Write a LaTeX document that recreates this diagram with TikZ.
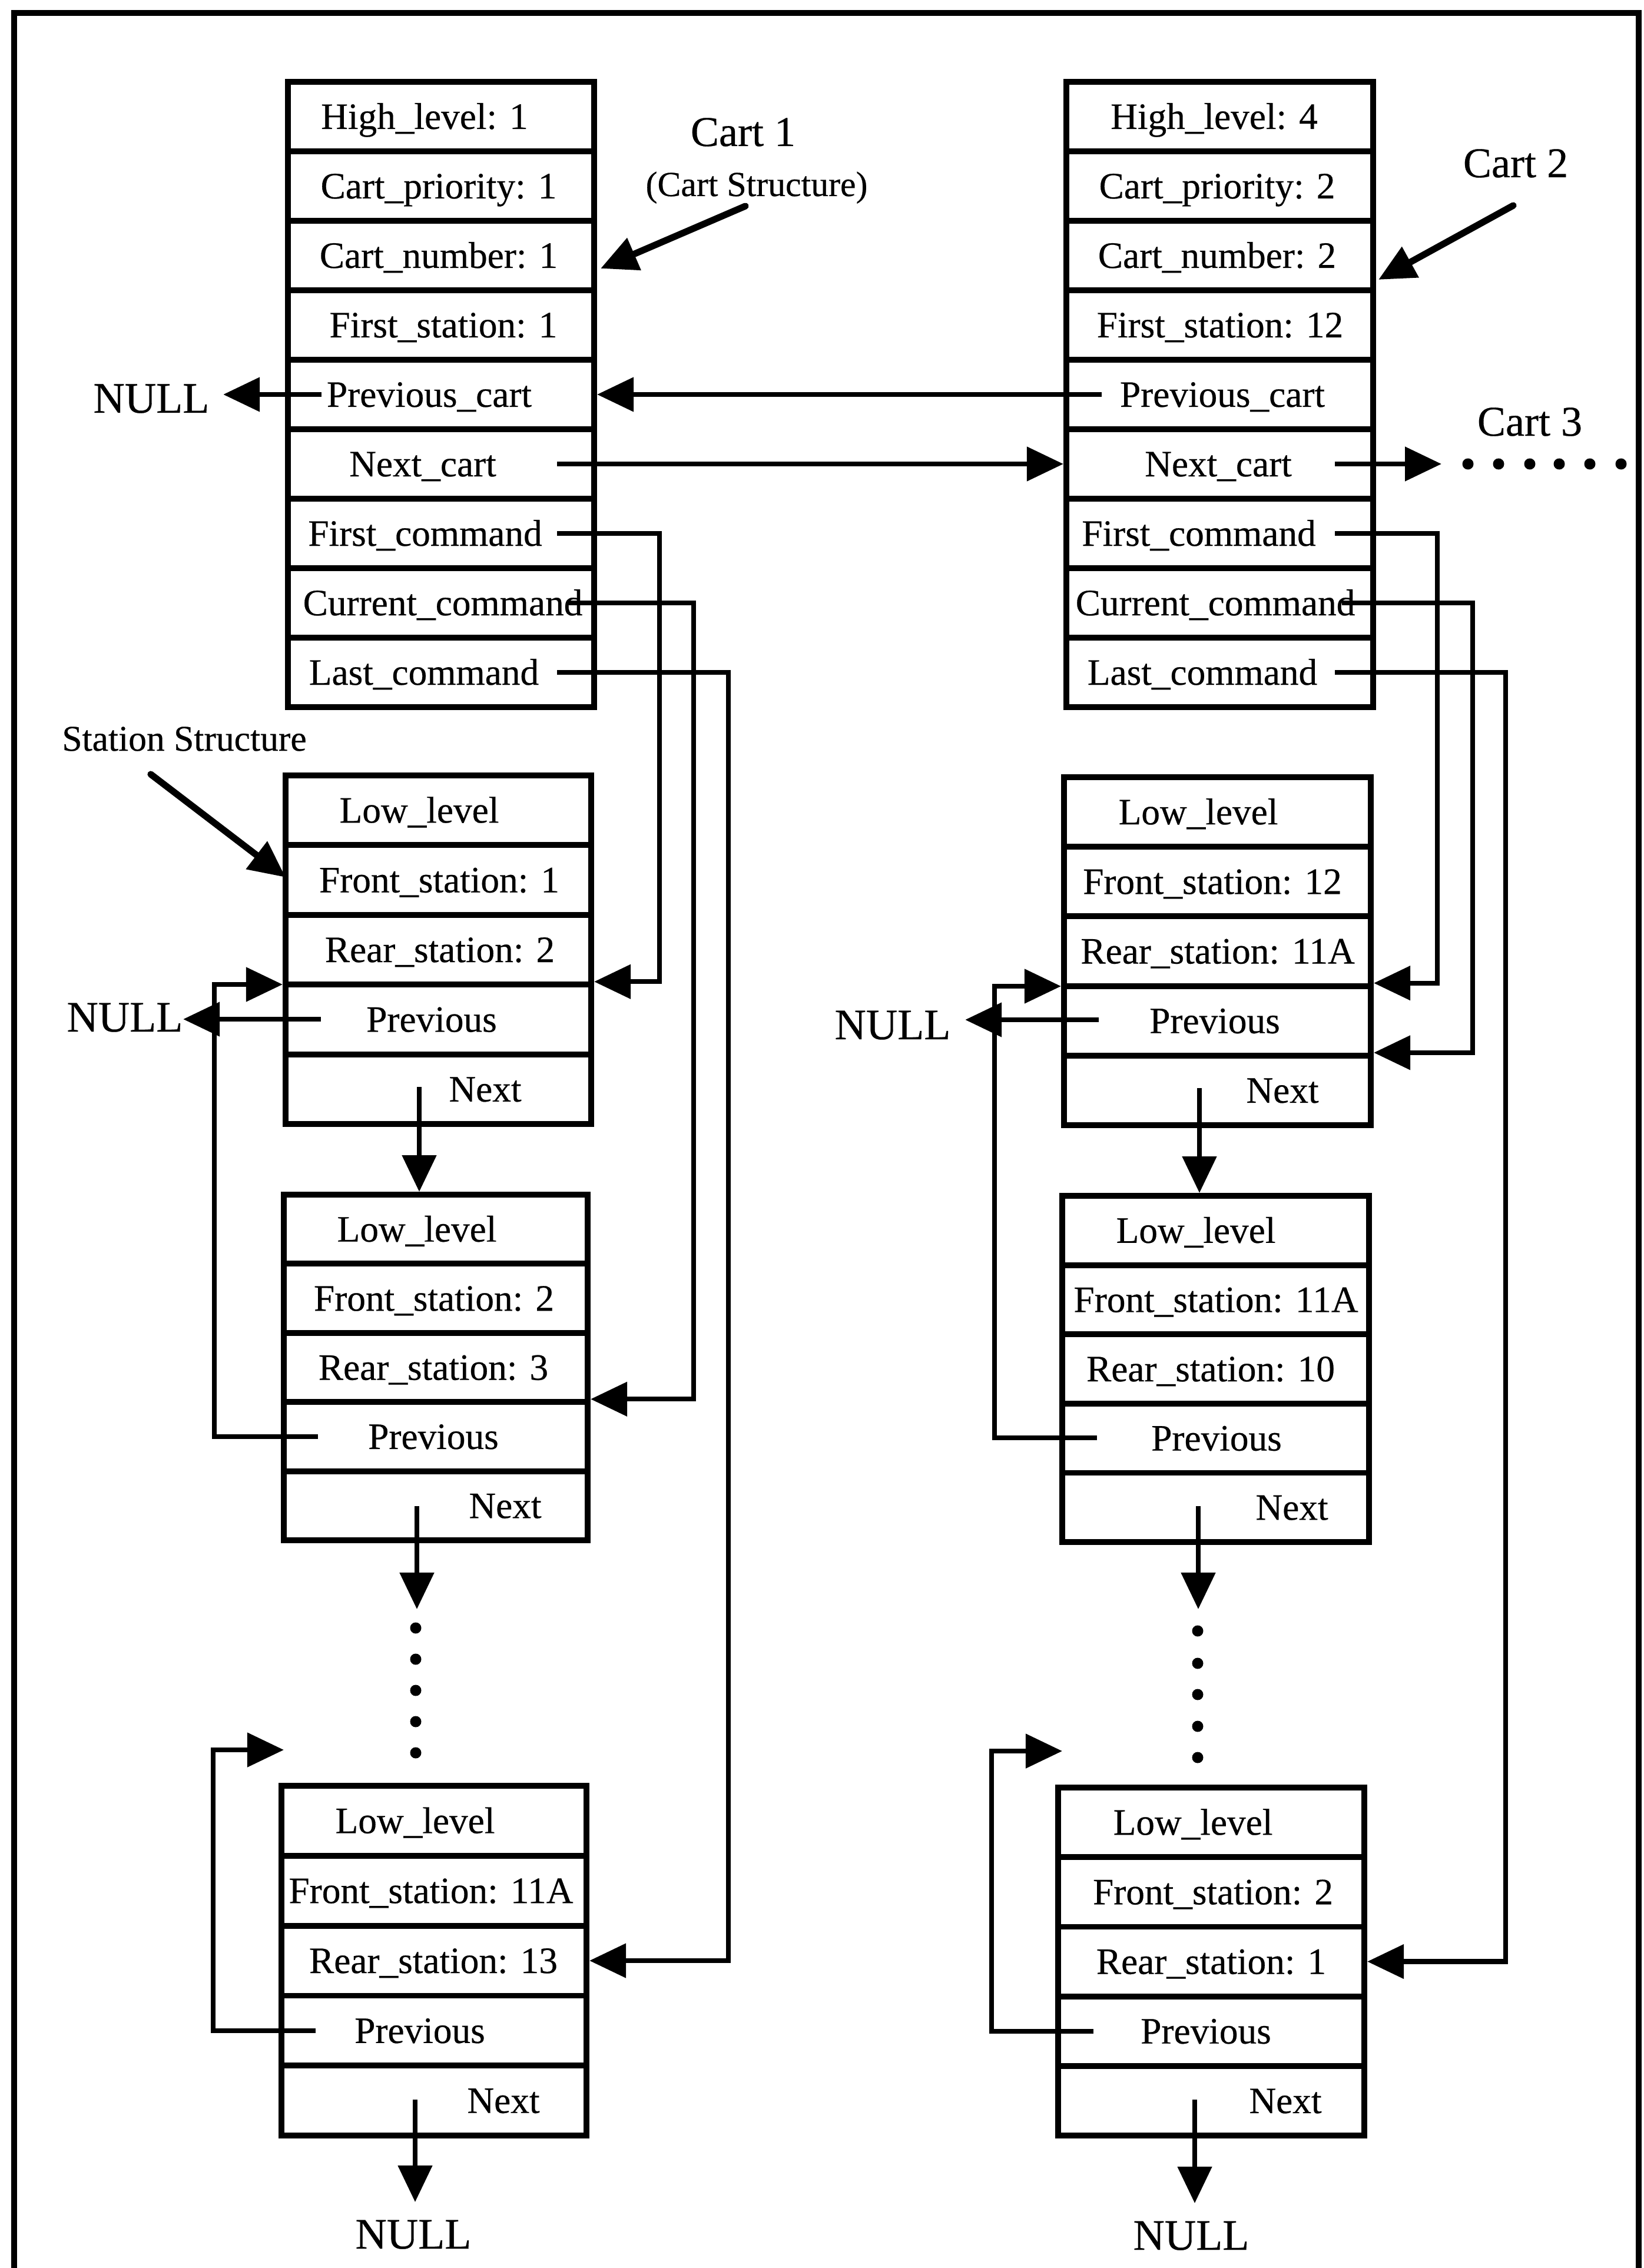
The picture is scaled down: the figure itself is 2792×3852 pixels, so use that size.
\documentclass[tikz,border=0pt]{standalone}
\usepackage{fontspec}
\setmainfont[FakeBold=0.4]{Liberation Serif}
\usetikzlibrary{arrows.meta}

\tikzset{
  cellbox/.style={draw, line width=2.8pt, inner sep=0pt},
  celltext/.style={anchor=base, inner sep=0pt, font=\fontsize{18pt}{20pt}\selectfont},
  ptr/.style={line width=2.3pt, -{Triangle[length=0.62cm, width=0.57cm]}},
  nulltext/.style={anchor=base, inner sep=0pt, font=\fontsize{21pt}{24pt}\selectfont},
  cartlabel/.style={anchor=base, inner sep=0pt, font=\fontsize{20.5pt}{24pt}\selectfont},
  smalllabel/.style={anchor=base, inner sep=0pt, font=\fontsize{17pt}{20pt}\selectfont},
  stationlabel/.style={anchor=base, inner sep=0pt, font=\fontsize{17.5pt}{20pt}\selectfont},
  callout/.style={line width=3.2pt, line cap=round, -{Triangle[length=0.62cm, width=0.57cm]}},
  frame/.style={line width=2.6pt}
}

% #1 prefix, #2 centre x, #3 top y, #4 width, #5 row height (px), #6 list textx/text
\newcommand{\structbox}[6]{%
  \foreach \xa/\lbl [count=\i] in {#6} {
    \pgfmathsetmacro{\yc}{#3+(\i-0.5)*#5}
    \node[cellbox, minimum width=#4, minimum height=#5*0.01cm] (#1r\i) at (#2,\yc) {};
    \node[celltext] (#1t\i) at (\xa,\yc+21) {\lbl};
  }
}

\begin{document}
\begin{tikzpicture}[x=0.01cm, y=-0.01cm]
\useasboundingbox (0,0) rectangle (2792,3852);

% outer frame
\draw[frame] (24,3852) -- (24,22) -- (2783,22) -- (2783,3852);

% cart structures
\structbox{c1}{749}{139}{5.2cm}{118}{721/{High\_level: 1}, 745/{Cart\_priority: 1}, 745/{Cart\_number: 1}, 753/{First\_station: 1}, 729/{Previous\_cart}, 718/{Next\_cart}, 722/{First\_command}, 752/{Current\_command}, 720/{Last\_command}}
\structbox{c2}{2071.5}{139}{5.21cm}{118}{2062/{High\_level: 4}, 2067/{Cart\_priority: 2}, 2067/{Cart\_number: 2}, 2072/{First\_station: 12}, 2076/{Previous\_cart}, 2069/{Next\_cart}, 2036/{First\_command}, 2064/{Current\_command}, 2042/{Last\_command}}

% station structures, cart 1
\structbox{a1}{744.5}{1317}{5.19cm}{118.4}{712/{Low\_level}, 746/{Front\_station: 1}, 747/{Rear\_station: 2}, 733/{Previous}, 824/{Next}}
\structbox{a2}{740}{2029}{5.16cm}{117.4}{708/{Low\_level}, 737/{Front\_station: 2}, 736/{Rear\_station: 3}, 736/{Previous}, 858/{Next}}
\structbox{a3}{737}{3033}{5.18cm}{118.8}{705/{Low\_level}, 732/{Front\_station: 11A}, 736/{Rear\_station: 13}, 713/{Previous}, 855/{Next}}

% station structures, cart 2
\structbox{b1}{2067.5}{1320}{5.21cm}{118.2}{2035/{Low\_level}, 2059/{Front\_station: 12}, 2068/{Rear\_station: 11A}, 2063/{Previous}, 2178/{Next}}
\structbox{b2}{2064.5}{2031}{5.21cm}{117.6}{2031/{Low\_level}, 2065/{Front\_station: 11A}, 2056/{Rear\_station: 10}, 2066/{Previous}, 2194/{Next}}
\structbox{b3}{2057}{3036}{5.2cm}{118.2}{2026/{Low\_level}, 2060/{Front\_station: 2}, 2057/{Rear\_station: 1}, 2048/{Previous}, 2183/{Next}}

% labels
\node[nulltext] (nullA) at (257,701) {NULL};
\node[nulltext] (nullB) at (212,1752) {NULL};
\node[nulltext] (nullC) at (702,3819) {NULL};
\node[nulltext] (nullD) at (1516,1765) {NULL};
\node[nulltext] (nullE) at (2023,3821) {NULL};
\node[cartlabel] (cart1) at (1262,248) {Cart 1};
\node[smalllabel] (cart1s) at (1285,333) {(Cart Structure)};
\node[cartlabel] (cart2) at (2574,301) {Cart 2};
\node[cartlabel] (cart3) at (2598,740) {Cart 3};
\node[stationlabel] (stlab) at (313,1275) {Station Structure};

% callout arrows
\coordinate (l1s) at (1266,350); \coordinate (l1t) at (1020,456);
\draw[callout] (l1s) -- (l1t);
\coordinate (l2s) at (2570,349); \coordinate (l2t) at (2341,475);
\draw[callout] (l2s) -- (l2t);
\coordinate (lss) at (256,1315); \coordinate (lst) at (485,1490);
\draw[callout] (lss) -- (lst);

% cart-level pointers
\coordinate (o1p) at (546,670);
\draw[ptr, shorten >=0.23cm] (o1p) -- (o1p -| nullA.east);
\coordinate (o2p) at (1871,670);
\draw[ptr] (o2p) -- (o2p -| c1r5.east);
\coordinate (o1n) at (946,788);
\draw[ptr] (o1n) -- (o1n -| c2r6.west);
\coordinate (o2n) at (2267,788);
\coordinate (c3tip) at (2448,788);
\draw[ptr] (o2n) -- (c3tip);
\foreach \dx in {2493,2545,2598,2648,2700,2753} \fill (\dx,788) circle[radius=0.095cm];

% cart 1 command pointers
\coordinate (o1f) at (946,906); \coordinate (k1f) at (1120,906);
\draw[ptr] (o1f) -- (k1f) |- (a1r4.north east);
\coordinate (o1c) at (966,1024); \coordinate (k1c) at (1178,1024);
\draw[ptr] (o1c) -- (k1c) |- (a2r4.north east);
\coordinate (o1l) at (946,1142); \coordinate (k1l) at (1237,1142);
\draw[ptr] (o1l) -- (k1l) |- (a3r3.east);

% cart 2 command pointers
\coordinate (o2f) at (2267,906); \coordinate (k2f) at (2441,906);
\draw[ptr] (o2f) -- (k2f) |- (b1r4.north east);
\coordinate (o2c) at (2279,1024); \coordinate (k2c) at (2501,1024);
\draw[ptr] (o2c) -- (k2c) |- (b1r5.north east);
\coordinate (o2l) at (2267,1142); \coordinate (k2l) at (2557,1142);
\draw[ptr] (o2l) -- (k2l) |- (b3r3.east);

% station pointers, cart 1
\coordinate (a1p) at (545,1731);
\draw[ptr] (a1p) -- (a1p -| nullB.east);
\coordinate (a1n) at (712,1846);
\draw[ptr] (a1n) -- (a1n |- a2r1.north);
\coordinate (a2p) at (540,2440); \coordinate (a2k) at (364,1672);
\draw[ptr] (a2p) -| (a2k) -- (a2k -| a1r4.west);
\coordinate (a2n) at (708,2558); \coordinate (a2d) at (708,2733);
\draw[ptr] (a2n) -- (a2d);
\foreach \dy in {2765,2818,2871,2924,2977} \fill (706,\dy) circle[radius=0.095cm];
\coordinate (a3p) at (536,3449); \coordinate (a3k) at (362,2972); \coordinate (a3tip) at (482,2972);
\draw[ptr] (a3p) -| (a3k) -- (a3tip);
\coordinate (a3n) at (705,3566);
\draw[ptr, shorten >=0.3cm] (a3n) -- (a3n |- nullC.north);

% station pointers, cart 2
\coordinate (b1p) at (1866,1732);
\draw[ptr, shorten >=0.24cm] (b1p) -- (b1p -| nullD.east);
\coordinate (b1n) at (2037,1848);
\draw[ptr] (b1n) -- (b1n |- b2r1.north);
\coordinate (b2p) at (1863,2442); \coordinate (b2k) at (1689,1675);
\draw[ptr] (b2p) -| (b2k) -- (b2k -| b1r4.west);
\coordinate (b2n) at (2035,2558); \coordinate (b2d) at (2035,2733);
\draw[ptr] (b2n) -- (b2d);
\foreach \dy in {2770,2825,2878,2932,2985} \fill (2034,\dy) circle[radius=0.095cm];
\coordinate (b3p) at (1857,3450); \coordinate (b3k) at (1684,2974); \coordinate (b3tip) at (1804,2974);
\draw[ptr] (b3p) -| (b3k) -- (b3tip);
\coordinate (b3n) at (2029,3566);
\draw[ptr, shorten >=0.3cm] (b3n) -- (b3n |- nullE.north);

\end{tikzpicture}
\end{document}
